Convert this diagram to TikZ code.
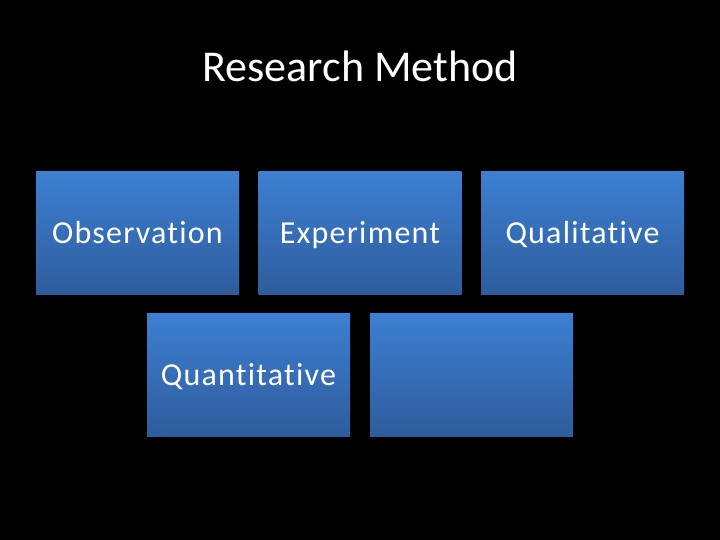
\documentclass[tikz,border=0pt]{standalone}
\usepackage{fontspec}
\setmainfont[Ligatures={NoCommon}]{Carlito}
\newfontfamily\boxfont[Ligatures={NoCommon},LetterSpace=3.8]{Carlito}
\definecolor{boxtop}{HTML}{3D7FD2}
\definecolor{boxbot}{HTML}{2E5C9C}
\begin{document}
\begin{tikzpicture}[x=1pt,y=1pt,
  box/.style={rectangle, minimum width=203pt, minimum height=123pt, inner sep=0pt,
    text height=20.6pt, text depth=0pt,
    top color=boxtop, bottom color=boxbot, draw=none, text=white,
    font=\boxfont\fontsize{32}{36}\selectfont}]
\fill[black] (0,0) rectangle (720,540);
\useasboundingbox (0,0) rectangle (720,540);
\node[text=white, anchor=base, inner sep=0pt, font=\fontsize{44}{50}\selectfont] (title) at (360,458) {Research Method};
\node[box] (obs) at (137.5,306.5) {Observation};
\node[box] (exp) at (360,306.5) {Experiment};
\node[box] (qual) at (582.5,306.5) {Qualitative};
\node[box] (quant) at (248.5,165) {Quantitative};
\node[box] (empty) at (471.5,165) {};
\end{tikzpicture}
\end{document}
